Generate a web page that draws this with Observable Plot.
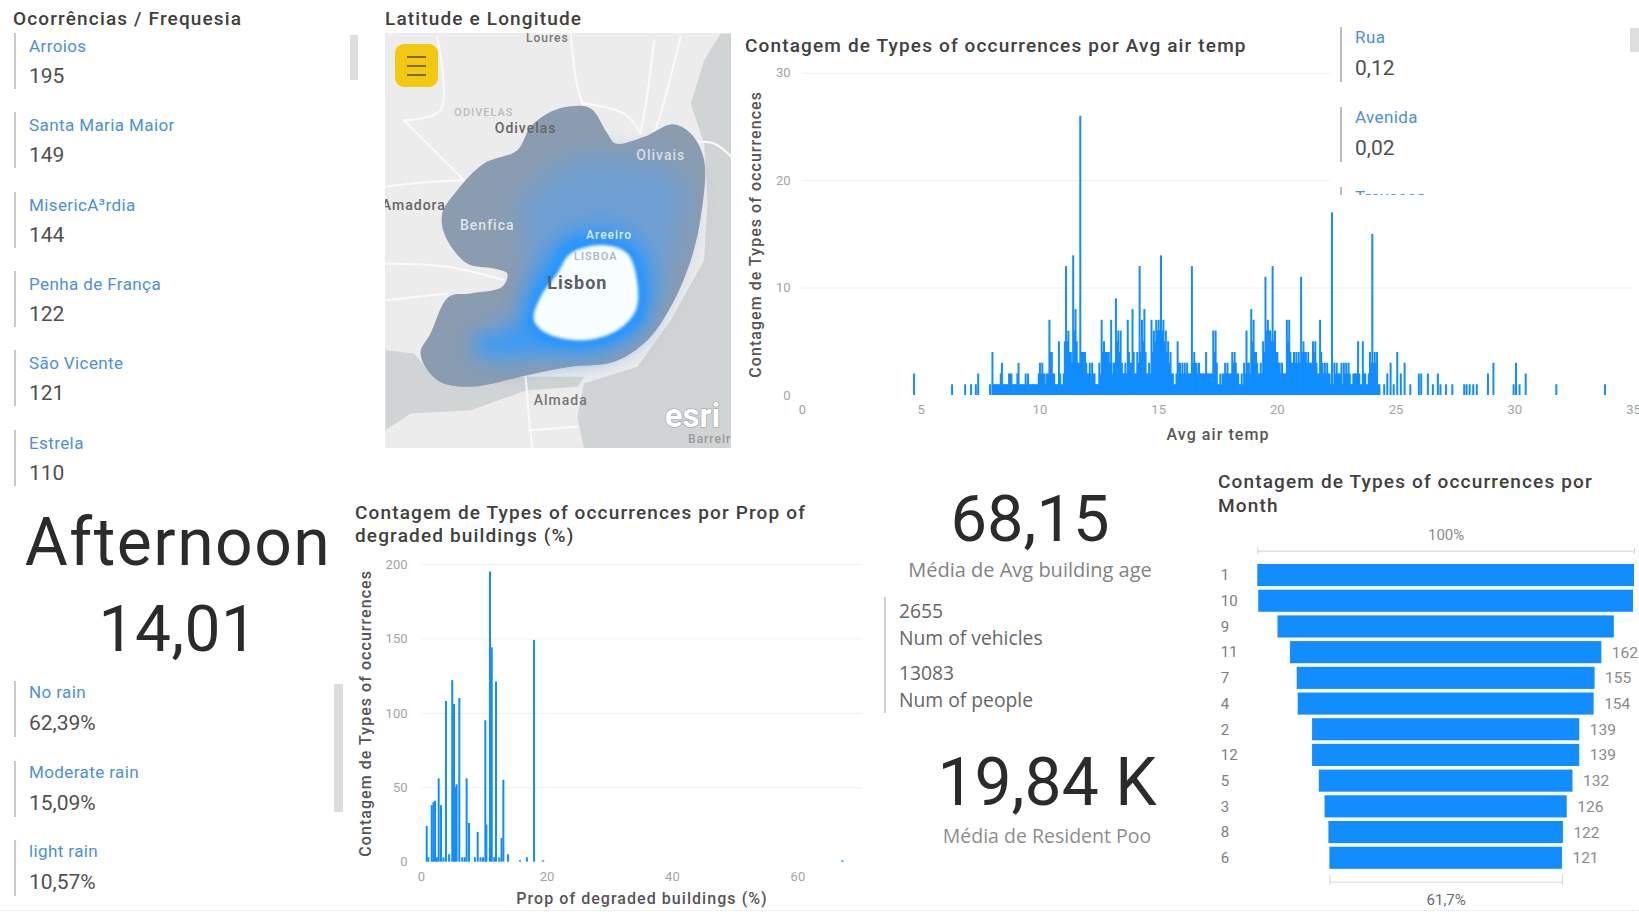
<!DOCTYPE html>
<html lang="pt">
<head>
<meta charset="utf-8">
<script src="https://cdn.jsdelivr.net/npm/d3@7"></script>
<script src="https://cdn.jsdelivr.net/npm/@observablehq/plot@0.6"></script>
<style>
  html, body { margin: 0; padding: 0; background: #fff; }
  #page { position: relative; width: 1639px; height: 914px; overflow: hidden; background: #fff; font-family: Roboto, sans-serif; }
  .t { position: absolute; white-space: nowrap; transform: translateY(-50%); line-height: 1; }
  .c { transform: translate(-50%, -50%); }
  .box { position: absolute; }
  .plot { position: absolute; overflow: visible; }
  .axis-title text { letter-spacing: 1.05px; font-weight: 500; }
  .map-label text { letter-spacing: 1px; }
  svg { display: block; }
</style>
</head>
<body>
<div id="page"></div>
<script>
// Occurrences per parish
const parishNames = ["Arroios", "Santa Maria Maior", "MisericA³rdia", "Penha de França", "São Vicente", "Estrela"];
const parishCounts = ["195", "149", "144", "122", "121", "110"];

// Rain share
const rainNames = ["No rain", "Moderate rain", "light rain"];
const rainShares = ["62,39%", "15,09%", "10,57%"];

// Road type share
const roadNames = ["Rua", "Avenida", "Travessa"];
const roadShares = ["0,12", "0,02", ""];

// Occurrences by average air temperature: main series on a 0.1 degree grid from 8.0
const airCounts = [
  4,1,1,1,3,1,1,2,2,1, 1,3,1,1,2,2,1,1,1,1,
  3,3,2,2,7,4,2,1,5,1, 2,12,6,4,13,8,3,26,4,4,
  2,3,3,2,1,3,7,5,4,4, 7,3,9,6,6,2,3,7,3,8,
  2,4,12,7,8,2,3,7,6,7, 7,13,7,6,5,4,2,1,5,3,
  3,3,3,2,12,4,3,3,2,2, 4,2,2,6,6,1,2,2,3,3,
  2,4,4,2,1,2,3,6,3,8, 7,4,2,3,5,11,7,6,12,6,
  4,3,3,2,7,7,3,4,4,4, 11,5,4,4,3,5,5,2,7,3,
  3,3,2,17,3,3,2,3,3,3, 3,1,2,2,5,1,5,2,1,4,
  15,4,4
];
// Readings falling between the grid steps, from 8.05
const airBetween = [
  1,1,1,2,1,1,1,2,1,1, 2,1,1,1,1,1,1,1,1,2,
  2,2,1,2,4,2,1,1,2,1, 5,5,4,3,6,5,3,4,4,3,
  2,2,2,1,1,2,4,4,4,3, 2,3,5,4,3,2,2,4,3,4,
  2,3,4,5,4,2,2,4,5,6, 6,6,5,4,3,2,1,2,3,2,
  2,2,2,2,3,3,2,2,2,2, 2,2,2,4,3,1,1,2,2,2,
  2,3,3,2,1,1,2,3,2,5, 4,3,2,2,4,6,6,5,5,4,
  3,2,2,2,5,4,3,3,3,3, 4,4,3,3,3,4,3,2,4,2,
  2,2,1,1,2,2,2,1,2,2, 2,1,2,2,2,1,2,1,2,3,
  3,3,1
];
// Isolated readings at both ends of the range
const airEdgeTemp = [4.7,6.3,6.85,7.1,7.3,7.4,7.9,24.3,24.5,24.63,24.77,24.9,25.05,25.2,25.36,25.6,25.96,26.06,26.34,26.55,26.76,26.87,27.1,27.37,27.87,27.97,28.1,28.25,28.4,28.87,29.1,29.95,30.05,30.2,30.46,31.75,33.8];
const airEdgeCount = [2,1,1,1,1,2,1,1,1,2,3,1,4,2,3,1,2,2,2,1,2,1,1,1,1,1,1,1,1,2,3,1,3,1,2,1,1];

// Occurrences by share of degraded buildings
const degradedPct = [0.83,1.1,1.63,1.9,2.15,2.45,2.74,3.11,3.5,3.9,4.4,4.9,5.18,5.4,5.6,6.03,6.5,6.9,7.2,7.58,8.5,8.96,9.4,9.8,10.18,10.35,10.92,11.2,11.6,11.88,12.4,12.76,13.05,13.8,15.7,16.8,17.94,19.4,67.1];
const degradedCount = [24,3,38,40,41,3,56,38,3,108,5,122,106,50,52,110,3,3,56,26,3,20,3,3,95,25,195,144,3,121,3,16,55,5,1,3,149,1,1];

// Occurrences by month, ordered as a funnel
const months = ["1", "10", "9", "11", "7", "4", "2", "12", "5", "3", "8", "6"];
const monthCounts = [196, 195, 175, 162, 155, 154, 139, 139, 132, 126, 122, 121];
const labelledFrom = 3;
const funnelMax = "100%";
const funnelMin = "61,7%";

// Cards
const kpiPeriod = "Afternoon";
const kpiTemp = "14,01";
const kpiAge = "68,15";
const kpiAgeLabel = "Média de Avg building age";
const kpiVehicles = ["2655", "Num of vehicles"];
const kpiPeople = ["13083", "Num of people"];
const kpiResidents = "19,84 K";
const kpiResidentsLabel = "Média de Resident Poo";

// Base map shapes, in map units
const waterEast = [[1050,100],[1082,100],[1082,1345],[640,1345],[620,1250],[640,1150],[800,1100],[900,960],[1000,780],[1010,600],[1000,430],[960,310],[1000,180]];
const waterWest = [[45,1050],[130,1060],[190,1130],[460,1130],[640,1130],[620,1160],[470,1170],[300,1230],[120,1240],[45,1290]];
const roads = [
  [[600,100],[620,260],[640,320]],
  [[850,120],[830,280],[810,400]],
  [[930,110],[870,340],[850,400]],
  [[980,425],[1030,430],[1082,470]],
  [[640,310],[760,340],[810,400]],
  [[45,560],[180,545],[280,540]],
  [[100,360],[200,460],[280,540]],
  [[200,110],[210,330],[100,360]],
  [[45,790],[230,800],[400,840]],
  [[45,900],[230,880]],
  [[465,1130],[475,1250],[485,1345]],
  [[475,1290],[620,1280]]
];
// Density contours of the heat layer, outermost first
const heatOuter = [[600,318],[660,325],[710,400],[735,430],[820,410],[905,372],[960,400],[1000,480],[990,650],[960,780],[900,920],[830,1020],[730,1085],[600,1100],[470,1125],[300,1160],[200,1140],[150,1060],[180,1000],[235,890],[300,880],[395,860],[410,820],[370,805],[290,790],[225,710],[215,640],[260,570],[340,490],[440,450],[480,380],[540,335]];
const heatMid = [[600,480],[760,480],[930,520],[930,700],[860,900],[760,1030],[600,1070],[400,1090],[300,1060],[330,1000],[460,930],[470,760],[450,620]];
const heatInner = [[600,690],[740,680],[830,760],[850,880],[810,990],[680,1060],[500,1060],[330,1060],[310,1020],[430,980],[460,880],[520,770]];
const heatRing = [[590,725],[710,715],[790,750],[825,850],[810,960],[720,1025],[610,1040],[500,1015],[470,960],[490,880],[540,800]];
const heatCore = [[600,760],[700,735],[770,760],[800,850],[795,930],[740,990],[640,1020],[530,1000],[490,960],[510,890],[560,820]];
const mapLabels = [
  {name: "Loures", x: 530, y: 114, color: "#777", size: 12},
  {name: "ODIVELAS", x: 340, y: 338, color: "#bbb", size: 11},
  {name: "Odivelas", x: 465, y: 385, color: "#666", size: 14},
  {name: "Amadora", x: 130, y: 615, color: "#666", size: 14},
  {name: "Olivais", x: 870, y: 465, color: "#d8dde2", size: 14},
  {name: "Benfica", x: 350, y: 675, color: "#dfe4e9", size: 14},
  {name: "Areeiro", x: 715, y: 705, color: "#dbe7f3", size: 12},
  {name: "LISBOA", x: 675, y: 768, color: "#aab4bf", size: 11},
  {name: "Almada", x: 570, y: 1200, color: "#777", size: 14},
  {name: "Barreiro", x: 1028, y: 1316, color: "#999", size: 12}
];
const mapCity = {name: "Lisbon", x: 620, y: 850, color: "#5a6068", size: 18};

const page = document.getElementById("page");
const BLUE = "#118DFF";

function text(x, y, str, style = {}, centered = false) {
  const el = document.createElement("div");
  el.className = centered ? "t c" : "t";
  el.textContent = str;
  el.style.left = x + "px";
  el.style.top = y + "px";
  const {parent, ...css} = style;
  Object.assign(el.style, css);
  (parent || page).appendChild(el);
  return el;
}
function box(x, y, w, h, color, parent = page) {
  const el = document.createElement("div");
  el.className = "box";
  Object.assign(el.style, {left: x + "px", top: y + "px", width: w + "px", height: h + "px", background: color});
  parent.appendChild(el);
  return el;
}
function place(svg, x, y) {
  svg.classList.add("plot");
  svg.style.left = x + "px";
  svg.style.top = y + "px";
  page.appendChild(svg);
}

const titleStyle = {fontSize: "19px", color: "#404040", letterSpacing: "1.15px", fontWeight: "500"};
const labelStyle = {fontSize: "17px", color: "#4a90dc", letterSpacing: "0.4px"};
const valueStyle = {fontSize: "21px", color: "#505050"};
const tickColor = "#a3a3a3";
const axisFont = {fontFamily: "Roboto, sans-serif", fontSize: 13};
const axisTitleColor = "#555";
const gridColor = "#f1f1f1";

// Rotated and horizontal axis titles, placed against the frame edges
const yTitle = (label, dx) => Plot.text([label], {frameAnchor: "left", textAnchor: "middle", lineAnchor: "middle", dx, rotate: -90, fill: axisTitleColor, fontSize: 16, className: "axis-title"});
const xTitle = (label, dy) => Plot.text([label], {frameAnchor: "bottom", textAnchor: "middle", lineAnchor: "middle", dy, fill: axisTitleColor, fontSize: 16, className: "axis-title"});

// Average air temperature chart
const airData = [
  ...airCounts.map((v, i) => ({t: 8 + i * 0.1, v})),
  ...airBetween.map((v, i) => ({t: 8.05 + i * 0.1, v})),
  ...airEdgeTemp.map((t, i) => ({t, v: airEdgeCount[i]}))
];
place(Plot.plot({
  width: 899, height: 390,
  marginLeft: 62, marginRight: 6, marginTop: 12.7, marginBottom: 55,
  style: {background: "transparent", ...axisFont},
  x: {domain: [0, 35]},
  y: {domain: [0, 30]},
  marks: [
    Plot.gridY({ticks: [10, 20, 30], stroke: gridColor, strokeOpacity: 1}),
    Plot.ruleX(airData, {x: "t", y1: 0, y2: "v", stroke: BLUE, strokeWidth: 2}),
    Plot.axisX({ticks: [0, 5, 10, 15, 20, 25, 30, 35], tickSize: 0, tickPadding: 9, color: tickColor, label: null}),
    Plot.axisY({ticks: [0, 10, 20, 30], tickSize: 0, tickPadding: 12, color: tickColor, label: null}),
    yTitle("Contagem de Types of occurrences", -47),
    xTitle("Avg air temp", 39),
  ]
}), 740, 60);

// Degraded buildings chart
const degradedData = degradedPct.map((p, i) => ({p, v: degradedCount[i]}));
place(Plot.plot({
  width: 530, height: 424,
  marginLeft: 81, marginRight: 8, marginTop: 74, marginBottom: 52.3,
  style: {background: "transparent", ...axisFont},
  x: {domain: [0, 70.3]},
  y: {domain: [0, 200]},
  marks: [
    Plot.gridY({ticks: [50, 100, 150, 200], stroke: gridColor, strokeOpacity: 1}),
    Plot.ruleX(degradedData, {x: "p", y1: 0, y2: "v", stroke: BLUE, strokeWidth: 2}),
    Plot.axisX({ticks: [0, 20, 40, 60], tickSize: 0, tickPadding: 10, color: tickColor, label: null}),
    Plot.axisY({ticks: [0, 50, 100, 150, 200], tickSize: 0, tickPadding: 14, color: tickColor, label: null}),
    yTitle("Contagem de Types of occurrences", -56),
    xTitle("Prop of degraded buildings (%)", 37),
  ]
}), 340, 490);

// Month funnel
const funnelData = months.map((m, i) => ({m, v: monthCounts[i], labelled: i >= labelledFrom}));
const half = monthCounts[0] / 2;
const low = monthCounts[monthCounts.length - 1] / 2;
place(Plot.plot({
  width: 439, height: 394,
  marginLeft: 57.3, marginRight: 5, marginTop: 42.2, marginBottom: 43.4,
  style: {background: "transparent", ...axisFont},
  x: {domain: [-half, half], axis: null},
  y: {domain: months, paddingInner: 0.14, paddingOuter: 0.07, round: false, axis: null},
  marks: [
    Plot.barX(funnelData, {x1: d => -d.v / 2, x2: d => d.v / 2, y: "m", fill: BLUE}),
    Plot.text(funnelData.filter(d => d.labelled), {x: d => d.v / 2, y: "m", text: d => String(d.v), textAnchor: "start", dx: 10, fill: "#8a8a8a", fontSize: 15.5}),
    Plot.text(months, {y: d => d, frameAnchor: "left", dx: -37, textAnchor: "start", fill: "#7d7d7d", fontSize: 15}),
  ]
}), 1200, 520);

// Funnel brackets and their percentages
place(Plot.plot({
  width: 439, height: 394,
  marginLeft: 57.3, marginRight: 5, marginTop: 0, marginBottom: 0,
  style: {background: "transparent", ...axisFont},
  x: {domain: [-half, half], axis: null},
  y: {domain: [0, 394], reverse: true, axis: null},
  marks: [
    Plot.ruleY([30.7], {x1: -half, x2: half, stroke: "#cfd5d8"}),
    Plot.ruleX([-half, half], {y1: 27.7, y2: 33.7, stroke: "#cfd5d8"}),
    Plot.text([funnelMax], {x: 0, y: 15, fill: "#8a8a8a", fontSize: 15}),
    Plot.ruleY([361.7], {x1: -low, x2: low, stroke: "#d8d8d0"}),
    Plot.ruleX([-low, low], {y1: 355, y2: 365, stroke: "#d8d8d0"}),
    Plot.text([funnelMin], {x: 0, y: 380, fill: "#6a6a6a", fontSize: 15}),
  ]
}), 1200, 520);

// Heat map over the base map
const shape = (pts, fill, extra = {}) =>
  Plot.line(pts, {x: d => d[0], y: d => d[1], fill, stroke: "none", curve: "catmull-rom-closed", ...extra});
const mapSvg = Plot.plot({
  width: 346, height: 415,
  margin: 0,
  style: {background: "#ececec", fontFamily: "Roboto, sans-serif"},
  x: {domain: [45, 1082], axis: null},
  y: {domain: [100, 1345], reverse: true, axis: null},
  marks: [
    Plot.line(waterEast, {x: d => d[0], y: d => d[1], fill: "#d1d4d5", stroke: "none", curve: "linear"}),
    Plot.line(waterWest, {x: d => d[0], y: d => d[1], fill: "#d1d4d5", stroke: "none", curve: "linear"}),
    ...roads.map(r => Plot.line(r, {x: d => d[0], y: d => d[1], stroke: "#fafafa", strokeWidth: 2, curve: "catmull-rom"})),
    shape(heatOuter, "#8b9cb0"),
    shape(heatMid, "#6f9fd3", {imageFilter: "blur(14px)"}),
    shape(heatInner, "#3d9af2", {imageFilter: "blur(9px)"}),
    shape(heatRing, "#2996fb", {imageFilter: "blur(3px)"}),
    shape(heatCore, "#f8fdff", {imageFilter: "blur(1.6px)"}),
    Plot.text(mapLabels, {x: "x", y: "y", text: "name", fill: "color", fontSize: "size", fontWeight: 500, className: "map-label"}),
    Plot.text([mapCity], {x: "x", y: "y", text: "name", fill: "color", fontSize: "size", fontWeight: 700, className: "map-label"}),
    Plot.text(["esri"], {x: 965, y: 1248, fill: "#fff", stroke: "#9aa0a4", strokeWidth: 1.2, paintOrder: "stroke", fontSize: 33, fontWeight: 700}),
  ]
});
place(mapSvg, 385, 33);
mapSvg.style.overflow = "hidden";

// Menu button on the map
const menu = box(395, 44, 43, 43, "#F2C811");
menu.style.borderRadius = "9px";
[56, 65, 74].forEach(y => box(407, y, 19, 2, "#7d6a10"));

// Panel titles
text(13, 18, "Ocorrências / Frequesia", titleStyle);
text(385, 18, "Latitude e Longitude", titleStyle);
text(745, 45, "Contagem de Types of occurrences por Avg air temp", titleStyle);
text(355, 511.5, "Contagem de Types of occurrences por Prop of", titleStyle);
text(355, 535, "degraded buildings (%)", titleStyle);
text(1218, 481, "Contagem de Types of occurrences por", titleStyle);
text(1218, 505, "Month", titleStyle);

// Parish list
parishNames.forEach((name, i) => {
  const y = 33 + i * 79.3;
  box(14, y, 2, 56, "#c9c9c9");
  text(29, y + 13, name, labelStyle);
  text(29, y + 43, parishCounts[i], valueStyle);
});
box(350, 35, 8, 45, "#dedede");

// Rain list
rainNames.forEach((name, i) => {
  const y = 681 + i * 79.7;
  box(14, y, 2, 56, "#c9c9c9");
  text(29, y + 11, name, labelStyle);
  text(29, y + 42, rainShares[i], valueStyle);
});
box(334, 684, 9, 128, "#dcdcdc");

// Road type list, cut off by its panel height
const roadPanel = box(1330, 20, 309, 175, "#fff");
roadPanel.style.overflow = "hidden";
roadNames.forEach((name, i) => {
  const y = 7 + i * 80;
  box(10, y, 2, 55, "#bdbdbd", roadPanel);
  text(25, y + 10, name, {...labelStyle, parent: roadPanel});
  if (roadShares[i]) text(25, y + 41, roadShares[i], {...valueStyle, parent: roadPanel});
});
box(1630, 28, 9, 24, "#dedede");

// Large cards
const bigStyle = {fontWeight: "400", color: "#2b2b2b"};
text(178, 543, kpiPeriod, {...bigStyle, fontSize: "66px", letterSpacing: "1.5px"}, true);
text(178, 630, kpiTemp, {...bigStyle, fontSize: "64px", letterSpacing: "0.5px"}, true);
text(1030, 519, kpiAge, {...bigStyle, fontSize: "65px"}, true);
text(1047, 783, kpiResidents, {...bigStyle, fontSize: "66px"}, true);
const noteStyle = {fontFamily: "'Open Sans', sans-serif", fontSize: "20px", color: "#828282"};
text(1030, 570, kpiAgeLabel, noteStyle, true);
text(1047, 836, kpiResidentsLabel, {...noteStyle, color: "#8d8d8d", fontSize: "19.5px"}, true);

// Vehicles and people card
box(884, 597, 2, 116, "#cfcfcf");
const rowStyle = {fontFamily: "'Open Sans', sans-serif", fontSize: "19.3px", color: "#666"};
text(899, 611, kpiVehicles[0], rowStyle);
text(899, 638, kpiVehicles[1], rowStyle);
text(899, 673, kpiPeople[0], rowStyle);
text(899, 700, kpiPeople[1], rowStyle);

// Faint dotted edge along the bottom of the report
const edge = box(0, 910, 1639, 0, "transparent");
edge.style.borderTop = "1px dotted #e2e2e2";
</script>
</body>
</html>
